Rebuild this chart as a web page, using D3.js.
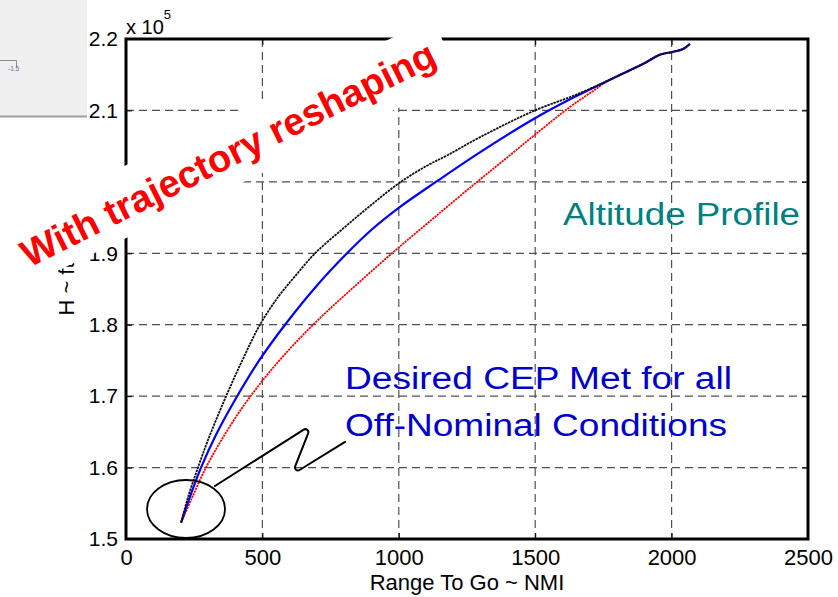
<!DOCTYPE html>
<html>
<head>
<meta charset="utf-8">
<script src="https://cdn.jsdelivr.net/npm/d3@7"></script>
<style>
  html, body { margin: 0; padding: 0; background: #ffffff; }
  svg { display: block; }
  text { font-family: "Liberation Sans", Arial, sans-serif; }
</style>
</head>
<body>
<svg id="chart" width="838" height="597"></svg>
<script>
// Altitude profiles: range to go (NMI) vs altitude (ft)
const rangeTicks = [0, 500, 1000, 1500, 2000, 2500];
const altTicks = [150000, 160000, 170000, 180000, 190000, 200000, 210000, 220000];
const altTickLabels = ["1.5", "1.6", "1.7", "1.8", "1.9", "2", "2.1", "2.2"];

// Upper (black dotted) trajectory
const blackRange = [202, 230, 264, 300, 367, 430, 491, 560, 620, 693, 800, 900, 1000, 1100, 1177, 1300, 1499, 1650, 1780, 1900, 1957, 2005, 2042, 2067];
const blackAlt   = [152300, 156200, 160000, 163800, 170000, 175300, 180000, 184000, 186800, 190000, 193600, 196800, 199800, 202200, 203700, 206300, 210000, 212200, 214400, 216600, 217800, 218200, 218600, 219300];

// Middle (blue) trajectory
const blueRange = [202, 240, 275, 330, 400, 490, 583, 700, 810, 900, 1001, 1144, 1300, 1499, 1640, 1774, 1900, 1957, 2005, 2042, 2067];
const blueAlt   = [152300, 156500, 160000, 164600, 169500, 175100, 180000, 185500, 190000, 193300, 196400, 200200, 204200, 208900, 211800, 214300, 216600, 217800, 218200, 218600, 219300];

// Lower (red dotted) trajectory
const redRange = [202, 240, 293, 360, 447, 560, 686, 830, 975, 1130, 1287, 1400, 1499, 1628, 1700, 1774, 1900, 1957, 2005, 2042, 2067];
const redAlt   = [152300, 155600, 160000, 164500, 169500, 174900, 180000, 185100, 190000, 195000, 200000, 203500, 206600, 210500, 212400, 214300, 216600, 217800, 218200, 218600, 219300];

// Annotation anchors in data units
const ellipseCenter = [220, 154200];
const ellipseRadii = [143, 4060];
const squiggle = [[326, 157420], [680, 166000], [608, 159000], [803, 163600]];

const svg = d3.select("#chart");

// Fragment of a neighbouring figure in the top-left corner
svg.append("rect").attr("x", 0).attr("y", 0).attr("width", 87).attr("height", 116)
  .attr("fill", "#f0f0f0");
svg.append("line").attr("x1", 0).attr("x2", 87).attr("y1", 116.5).attr("y2", 116.5)
  .attr("stroke", "#a39ca6").attr("stroke-width", 2);
svg.append("path").attr("d", "M0,60.5H16.5V67").attr("fill", "none")
  .attr("stroke", "#8c8c8c").attr("stroke-width", 1);
svg.append("text").attr("x", 8).attr("y", 71).attr("font-size", 6.5)
  .attr("fill", "#7a5a9a").text("-1.5");

const x = d3.scaleLinear().domain([0, 2500]).range([126, 808]);
const y = d3.scaleLinear().domain([150000, 220000]).range([539, 39]);

const plot = svg.append("g");

// Dashed grid
plot.append("g").selectAll("line").data(rangeTicks.slice(1, -1)).join("line")
  .attr("x1", d => x(d)).attr("x2", d => x(d)).attr("y1", y(220000)).attr("y2", y(150000))
  .attr("stroke", "#505050").attr("stroke-width", 1.2).attr("stroke-dasharray", "8,5");
plot.append("g").selectAll("line").data(altTicks.slice(1, -1)).join("line")
  .attr("y1", d => y(d)).attr("y2", d => y(d)).attr("x1", x(0)).attr("x2", x(2500))
  .attr("stroke", "#505050").attr("stroke-width", 1.2).attr("stroke-dasharray", "8,5");

// Axes with inward ticks
const xAxis = d3.axisBottom(x).tickValues(rangeTicks).tickFormat(d3.format("d"))
  .tickSizeInner(-6).tickSizeOuter(0).tickPadding(10);
const yAxis = d3.axisLeft(y).tickValues(altTicks).tickFormat((d, i) => altTickLabels[i])
  .tickSizeInner(-6).tickSizeOuter(0).tickPadding(8);
const xTop = d3.axisTop(x).tickValues(rangeTicks).tickFormat("").tickSizeInner(-6).tickSizeOuter(0);
const yRight = d3.axisRight(y).tickValues(altTicks).tickFormat("").tickSizeInner(-6).tickSizeOuter(0);

function styleAxis(g, size) {
  g.select(".domain").remove();
  g.selectAll(".tick line").attr("stroke", "#000").attr("stroke-width", 1);
  g.selectAll("text").attr("font-size", size).attr("fill", "#000")
    .attr("font-family", "'Liberation Sans', Arial, sans-serif");
}
plot.append("g").attr("transform", `translate(0,${y(150000)})`).call(xAxis).call(g => styleAxis(g, 22));
plot.append("g").attr("transform", `translate(${x(0)},0)`).call(yAxis).call(g => styleAxis(g, 21));
plot.append("g").attr("transform", `translate(0,${y(220000)})`).call(xTop).call(g => styleAxis(g, 20));
plot.append("g").attr("transform", `translate(${x(2500)},0)`).call(yRight).call(g => styleAxis(g, 20));

// Frame
plot.append("rect").attr("x", x(0)).attr("y", y(220000))
  .attr("width", x(2500) - x(0)).attr("height", y(150000) - y(220000))
  .attr("fill", "none").attr("stroke", "#000").attr("stroke-width", 3);

// Exponent label
const expo = svg.append("text").attr("x", 126).attr("y", 34).attr("font-size", 20).attr("fill", "#000");
expo.append("tspan").text("x 10");
expo.append("tspan").attr("font-size", 13).attr("dy", -15).text("5");

// Axis titles
svg.append("text").attr("x", (x(0) + x(2500)) / 2).attr("y", 590).attr("text-anchor", "middle")
  .attr("font-size", 22).attr("fill", "#000").text("Range To Go ~ NMI");
svg.append("text").attr("transform", `translate(74,${(y(150000) + y(220000)) / 2}) rotate(-90)`)
  .attr("text-anchor", "middle").attr("font-size", 22).attr("fill", "#000").text("H ~ ft");

// Trajectories
const line = d3.line().x(d => x(d[0])).y(d => y(d[1])).curve(d3.curveCatmullRom.alpha(0.5));
const zip = (a, b) => a.map((v, i) => [v, b[i]]);

plot.append("path").datum(zip(redRange, redAlt)).attr("d", line)
  .attr("fill", "none").attr("stroke", "#ff0000").attr("stroke-width", 1.8)
  .attr("stroke-dasharray", "2.2,0.8");
plot.append("path").datum(zip(blueRange, blueAlt)).attr("d", line)
  .attr("fill", "none").attr("stroke", "#0000ff").attr("stroke-width", 2.2);
plot.append("path").datum(zip(blackRange, blackAlt)).attr("d", line)
  .attr("fill", "none").attr("stroke", "#111111").attr("stroke-width", 1.8)
  .attr("stroke-dasharray", "2.5,0.8");

// Circle around the terminal point and a zig-zag leader to the note
svg.append("ellipse")
  .attr("cx", x(ellipseCenter[0])).attr("cy", y(ellipseCenter[1]))
  .attr("rx", x(ellipseCenter[0] + ellipseRadii[0]) - x(ellipseCenter[0]))
  .attr("ry", y(ellipseCenter[1]) - y(ellipseCenter[1] + ellipseRadii[1]))
  .attr("fill", "none").attr("stroke", "#000").attr("stroke-width", 1.8);

const sp = squiggle.map(d => [x(d[0]), y(d[1])]);
const zz = d3.path();
zz.moveTo(sp[0][0], sp[0][1]);
zz.arcTo(sp[1][0], sp[1][1], sp[2][0], sp[2][1], 3);
zz.arcTo(sp[2][0], sp[2][1], sp[3][0], sp[3][1], 3);
zz.lineTo(sp[3][0], sp[3][1]);
svg.append("path").attr("d", zz.toString()).attr("fill", "none")
  .attr("stroke", "#000").attr("stroke-width", 2).attr("stroke-linecap", "round");

// Notes
svg.append("text").attr("x", 563).attr("y", 225).attr("font-size", 31)
  .attr("textLength", 237).attr("lengthAdjust", "spacingAndGlyphs")
  .attr("fill", "#008080").text("Altitude Profile");
svg.append("text").attr("x", 345).attr("y", 389).attr("font-size", 31)
  .attr("textLength", 387).attr("lengthAdjust", "spacingAndGlyphs")
  .attr("fill", "#0000cc").text("Desired CEP Met for all");
svg.append("text").attr("x", 345).attr("y", 436).attr("font-size", 31)
  .attr("textLength", 382).attr("lengthAdjust", "spacingAndGlyphs")
  .attr("fill", "#0000cc").text("Off-Nominal Conditions");

// Slanted banner with white backing
svg.append("polygon")
  .attr("points", [[-18, 234], [432, 18.7], [461, 78], [10, 293.5]].map(p => p.join(",")).join(" "))
  .attr("fill", "#ffffff");
svg.append("text").attr("transform", "translate(29,268) rotate(-26.5)")
  .attr("font-size", 38).attr("font-weight", "bold").attr("fill", "#ff0000")
  .text("With trajectory reshaping");
</script>
</body>
</html>
